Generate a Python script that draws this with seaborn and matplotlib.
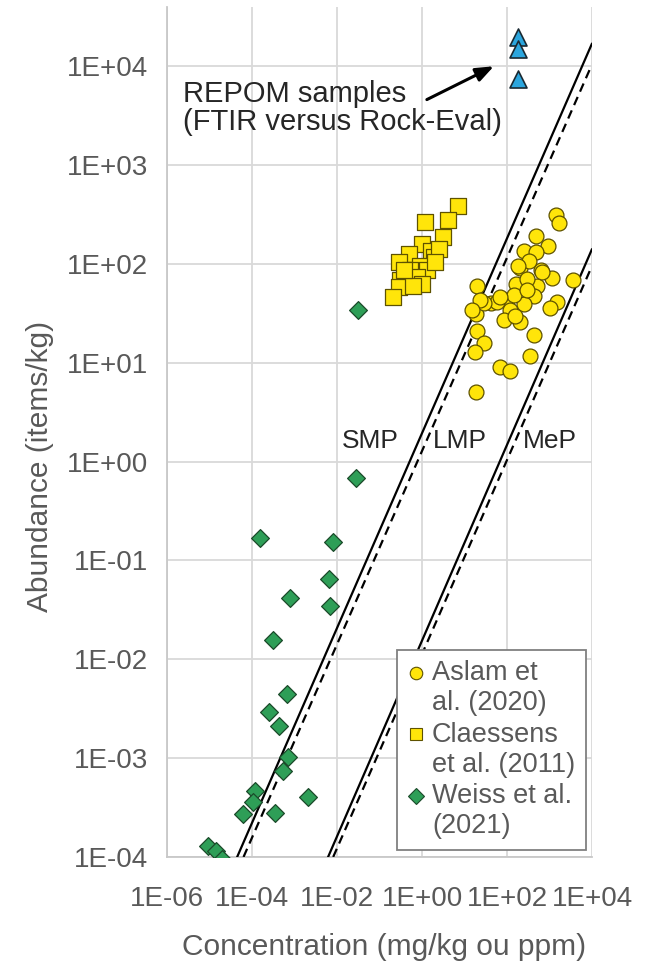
import numpy as np
import pandas as pd
import matplotlib
matplotlib.use("Agg")
import matplotlib.pyplot as plt
from matplotlib.ticker import FixedLocator, FuncFormatter, NullLocator
from matplotlib.lines import Line2D
from matplotlib.legend_handler import HandlerLine2D
import seaborn as sns

# ---------------- data ----------------
aslam_x = [1413, 1698, 490, 912, 245, 490, 204, 646, 1148, 3548, 19.5, 166, 513, 427, 1514,
           1047, 41, 100, 245, 120, 83, 204, 19, 19.5, 29.5, 17.8, 427, 339, 69, 115, 19,
           295, 145, 58, 324, 186, 661, 295, 69, 28, 158, 23, 15]
aslam_y = [316, 257, 191, 151, 135, 132, 91, 87, 72, 68, 60, 63, 60, 47, 41,
           36, 40, 43, 39, 34, 27, 26, 31, 21, 16, 13, 19, 11.7, 9.1, 8.3, 5.1,
           71, 48, 41, 107, 95, 83, 54, 46, 40, 30, 43, 34]

claessens_x = [7.0, 1.2, 4.2, 3.2, 1.0, 0.49, 1.6, 1.9, 0.28, 0.91, 0.53, 1.3, 0.31, 0.76,
               1.0, 0.28, 0.21, 0.63, 2.5, 2.0, 0.37]
claessens_y = [390, 263, 278, 189, 159, 126, 136, 117, 104, 96, 86, 86, 68, 74,
               63, 58, 46, 60, 141, 104, 86]

weiss_x = [0.031, 0.028, 1.5e-4, 0.0079, 0.0066, 7.9e-4, 0.0069, 3.2e-4, 6.6e-4, 2.5e-4,
           4.2e-4, 6.9e-4, 5.4e-4, 1.2e-4, 1.05e-4, 6.3e-5, 3.5e-4, 2.1e-3, 9.1e-6,
           1.4e-5, 1.95e-5]
weiss_y = [34, 0.69, 0.17, 0.155, 0.065, 0.042, 0.035, 0.0155, 0.0045, 0.0029,
           0.0021, 0.00102, 7.4e-4, 4.6e-4, 3.6e-4, 2.7e-4, 2.8e-4, 4.0e-4, 1.3e-4,
           1.15e-4, 9.5e-5]

repom_x = [180, 180, 180]
repom_y = [2.0e4, 1.5e4, 7.5e3]

# size-class boundary lines (endpoints)
upper_solid_x = [10 ** -4.35, 1e4]
upper_solid_y = [1e-4, 10 ** 4.23]
upper_dashed_x = [10 ** -4.2, 10 ** 3.96]
upper_dashed_y = [1e-4, 10 ** 3.98]
lower_solid_x = [10 ** -2.21, 1e4]
lower_solid_y = [1e-4, 10 ** 2.15]
lower_dashed_x = [10 ** -2.09, 1e4]
lower_dashed_y = [1e-4, 10 ** 1.98]

legend_labels = ["Aslam et\nal. (2020)", "Claessens\net al. (2011)", "Weiss et al.\n(2021)"]
xticks = [1e-6, 1e-4, 1e-2, 1e0, 1e2, 1e4]
yticks = [1e-4, 1e-3, 1e-2, 1e-1, 1e0, 1e1, 1e2, 1e3, 1e4]
region_labels = ["SMP", "LMP", "MeP"]
region_x = [0.06, 7.8, 1000]
region_y = [1.6, 1.6, 1.6]

# ---------------- style ----------------
sns.set_theme(style="white")
plt.rcParams["font.family"] = ["Liberation Sans", "DejaVu Sans"]
GREY_TXT = "#595959"
DARK_TXT = "#262626"
FS_TICK = 20
FS_LAB = 21.5
FS_LEG = 19.5
FS_REG = 19
FS_ANN = 21

fig = plt.figure(figsize=(6.54, 9.67), dpi=100)
ax = fig.add_axes([0.2554, 0.1138, 0.9052 - 0.2554, 0.9928 - 0.1138])
ax.set_xscale("log")
ax.set_yscale("log")
ax.set_xlim(1e-6, 1e4)
ax.set_ylim(1e-4, 10 ** 4.6)

# lines
for lx, ly, ls in [(upper_solid_x, upper_solid_y, "-"), (upper_dashed_x, upper_dashed_y, "--"),
                   (lower_solid_x, lower_solid_y, "-"), (lower_dashed_x, lower_dashed_y, "--")]:
    sns.lineplot(x=lx, y=ly, ax=ax, color="black", lw=1.6, linestyle=ls,
                 zorder=3, legend=False, estimator=None, sort=False)
for l in ax.lines:
    if l.get_linestyle() == "--":
        l.set_dashes([4, 2.6])

df_a = pd.DataFrame({"x": aslam_x, "y": aslam_y})
df_c = pd.DataFrame({"x": claessens_x, "y": claessens_y})
df_w = pd.DataFrame({"x": weiss_x, "y": weiss_y})
df_r = pd.DataFrame({"x": repom_x, "y": repom_y})

yellow = "#FFE50A"
yedge = "#5E5200"
green = "#2E9E57"
gedge = "#1B4A2A"
blue = "#2BA6DE"
bedge = "#1A2A33"

sns.scatterplot(data=df_c, x="x", y="y", ax=ax, marker="s", s=125, color=yellow,
                edgecolor=yedge, linewidth=0.9, zorder=4, legend=False)
sns.scatterplot(data=df_a, x="x", y="y", ax=ax, marker="o", s=115, color=yellow,
                edgecolor=yedge, linewidth=0.9, zorder=4, legend=False)
sns.scatterplot(data=df_w, x="x", y="y", ax=ax, marker="D", s=82, color=green,
                edgecolor=gedge, linewidth=0.9, zorder=4, legend=False)
sns.scatterplot(data=df_r, x="x", y="y", ax=ax, marker="^", s=150, color=blue,
                edgecolor=bedge, linewidth=1.2, zorder=4, legend=False)

# axes & grid
ax.xaxis.set_major_locator(FixedLocator(xticks))
ax.yaxis.set_major_locator(FixedLocator(yticks))
ax.xaxis.set_minor_locator(NullLocator())
ax.yaxis.set_minor_locator(NullLocator())


def fmt(v, pos):
    e = int(round(np.log10(v)))
    return "1E%s%02d" % ("+" if e >= 0 else "-", abs(e))


ax.xaxis.set_major_formatter(FuncFormatter(fmt))
ax.yaxis.set_major_formatter(FuncFormatter(fmt))
ax.grid(True, which="major", color="#D9D9D9", lw=1.3, zorder=0)
ax.set_axisbelow(True)
for s in ["top", "right"]:
    ax.spines[s].set_visible(False)
for s in ["left", "bottom"]:
    ax.spines[s].set_color("#C8C8C8")
    ax.spines[s].set_linewidth(1.3)
ax.tick_params(axis="both", length=0, labelsize=FS_TICK, labelcolor=GREY_TXT)
ax.tick_params(axis="y", pad=13.5)
ax.tick_params(axis="x", pad=21)
ax.set_xlabel("Concentration (mg/kg ou ppm)", fontsize=FS_LAB, color=GREY_TXT)
ax.set_ylabel("Abundance (items/kg)", fontsize=FS_LAB, color=GREY_TXT)
ax.xaxis.set_label_coords(0.511, -0.106)
ax.xaxis.label.set_va("center")
ax.yaxis.set_label_coords(-0.299, 0.46)
ax.yaxis.label.set_va("center")
ax.yaxis.label.set_ha("center")

# region labels
for t, x, y in zip(region_labels, region_x, region_y):
    ax.text(x, y, t, fontsize=FS_REG, color=DARK_TXT, ha="center", va="center", zorder=5)

# REPOM annotation
ax.text(0.038, 0.914, "REPOM samples\n(FTIR versus Rock-Eval)", transform=ax.transAxes,
        fontsize=FS_ANN, color=DARK_TXT, ha="left", va="top", linespacing=1.0, zorder=5)
ax.annotate("", xy=(49, 1.0e4), xytext=(1.3, 4600),
            arrowprops=dict(arrowstyle="-|>,head_length=0.9,head_width=0.35",
                            color="black", lw=2.2, shrinkA=0, shrinkB=0), zorder=5)


# legend: marker aligned with first text line of each entry
class FirstLineHandler(HandlerLine2D):
    def __init__(self, dy, **kw):
        super().__init__(**kw)
        self.dy = dy

    def create_artists(self, legend, orig_handle, xdescent, ydescent, width, height,
                       fontsize, trans):
        arts = super().create_artists(legend, orig_handle, xdescent, ydescent, width,
                                      height, fontsize, trans)
        for a in arts:
            a.set_ydata(np.asarray(a.get_ydata(), dtype=float) + self.dy)
        return arts


LEG_LS = 1.2
handles = [
    Line2D([], [], marker="o", ls="", markersize=9, markerfacecolor=yellow,
           markeredgecolor=yedge, markeredgewidth=0.8),
    Line2D([], [], marker="s", ls="", markersize=9, markerfacecolor=yellow,
           markeredgecolor=yedge, markeredgewidth=0.8),
    Line2D([], [], marker="D", ls="", markersize=8, markerfacecolor=green,
           markeredgecolor=gedge, markeredgewidth=0.8),
]
hm = {h: FirstLineHandler(dy=0.5 * LEG_LS * FS_LEG) for h in handles}
leg = ax.legend(handles, legend_labels, loc="lower right", bbox_to_anchor=(0.986, 0.008),
                fontsize=FS_LEG, frameon=True, fancybox=False, framealpha=1,
                handlelength=0.6, handletextpad=0.3, borderpad=0.4, labelspacing=0.2,
                borderaxespad=0, handler_map=hm)
leg.get_frame().set_edgecolor("#808080")
leg.get_frame().set_linewidth(1.3)
for t in leg.get_texts():
    t.set_color(GREY_TXT)
    t.set_linespacing(LEG_LS)
leg.set_zorder(6)

fig.savefig("out.png", dpi=100, facecolor="white")
